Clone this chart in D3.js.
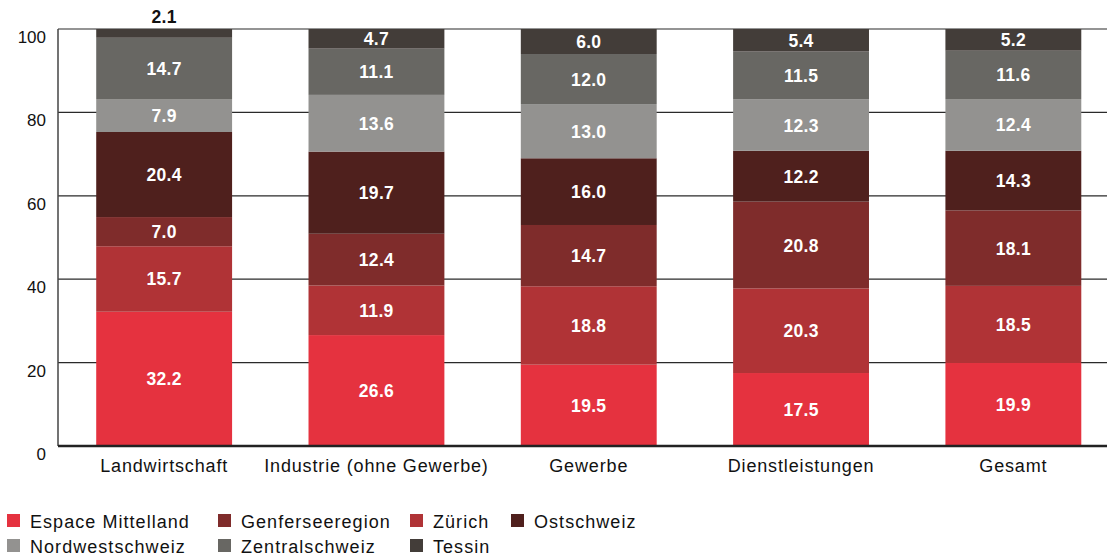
<!DOCTYPE html>
<html>
<head>
<meta charset="utf-8">
<script src="https://cdn.jsdelivr.net/npm/d3@7"></script>
<style>
  body { margin: 0; background: #fff; }
  svg { display: block; font-family: "Liberation Sans", Arial, sans-serif; }
</style>
</head>
<body>
<div id="chart"></div>
<script>
var categories = ['Landwirtschaft', 'Industrie (ohne Gewerbe)', 'Gewerbe', 'Dienstleistungen', 'Gesamt'];
var regions = ['Espace Mittelland', 'Zürich', 'Genferseeregion', 'Ostschweiz', 'Nordwestschweiz', 'Zentralschweiz', 'Tessin'];
var legendOrder = ['Espace Mittelland', 'Genferseeregion', 'Zürich', 'Ostschweiz', 'Nordwestschweiz', 'Zentralschweiz', 'Tessin'];
var colors = ['#e5323f', '#b03336', '#7f2c2b', '#4f201d', '#939290', '#686763', '#433d39'];

// values per region, in category order
var espace = [32.2, 26.6, 19.5, 17.5, 19.9];
var zuerich = [15.7, 11.9, 18.8, 20.3, 18.5];
var genf = [7.0, 12.4, 14.7, 20.8, 18.1];
var ost = [20.4, 19.7, 16.0, 12.2, 14.3];
var nordwest = [7.9, 13.6, 13.0, 12.3, 12.4];
var zentral = [14.7, 11.1, 12.0, 11.5, 11.6];
var tessin = [2.1, 4.7, 6.0, 5.4, 5.2];
var yTicks = [0, 20, 40, 60, 80, 100];

var series = [espace, zuerich, genf, ost, nordwest, zentral, tessin];

var width = 1107, height = 556;
var margin = {top: 29, left: 58, bottom: 110};

var svg = d3.select('#chart').append('svg')
  .attr('width', width)
  .attr('height', height);

var rows = categories.map(function(c, i) {
  var r = {cat: c};
  regions.forEach(function(reg, j) { r[reg] = series[j][i]; });
  return r;
});

var stack = d3.stack().keys(regions)(rows);

var x = d3.scaleBand().domain(categories).range([margin.left, 1119.5]).paddingInner(0.36).paddingOuter(0.18);
var y = d3.scaleLinear().domain([0, 100]).range([height - margin.bottom, margin.top]);
var color = d3.scaleOrdinal().domain(regions).range(colors);

// gridlines
svg.append('g').selectAll('line')
  .data(yTicks.filter(function(t) { return t > 0; }))
  .enter().append('line')
  .attr('x1', margin.left).attr('x2', width)
  .attr('y1', function(d) { return y(d); })
  .attr('y2', function(d) { return y(d); })
  .attr('stroke', '#2a2a2a').attr('stroke-width', 1.2);

// bars
var layer = svg.append('g').selectAll('g')
  .data(stack).enter().append('g')
  .attr('fill', function(d) { return color(d.key); });

layer.selectAll('rect')
  .data(function(d) { return d; })
  .enter().append('rect')
  .attr('x', function(d) { return x(d.data.cat); })
  .attr('width', x.bandwidth())
  .attr('y', function(d) { return y(d[1]); })
  .attr('height', function(d) { return y(d[0]) - y(d[1]); });

// value labels
layer.selectAll('text')
  .data(function(d) { return d; })
  .enter().append('text')
  .attr('x', function(d) { return x(d.data.cat) + x.bandwidth() / 2; })
  .attr('y', function(d) {
    var h = y(d[0]) - y(d[1]);
    if (h < 12) return y(d[1]) - 6;
    return (y(d[0]) + y(d[1])) / 2 + 6.5;
  })
  .attr('text-anchor', 'middle')
  .attr('font-size', 17.5)
  .attr('letter-spacing', 0.3)
  .attr('font-weight', 'bold')
  .attr('fill', function(d) { return (y(d[0]) - y(d[1])) < 12 ? '#111' : '#fff'; })
  .text(function(d) { return (d[1] - d[0]).toFixed(1); });

// left axis line
svg.append('line')
  .attr('x1', margin.left).attr('x2', margin.left)
  .attr('y1', y(100)).attr('y2', y(0))
  .attr('stroke', '#444').attr('stroke-width', 1.5);

// baseline
svg.append('line')
  .attr('x1', margin.left).attr('x2', width)
  .attr('y1', y(0)).attr('y2', y(0))
  .attr('stroke', '#222').attr('stroke-width', 2.5);

// y tick labels
svg.append('g').selectAll('text')
  .data(yTicks).enter().append('text')
  .attr('x', 46)
  .attr('y', function(d) { return y(d) + 14; })
  .attr('text-anchor', 'end')
  .attr('font-size', 17)
  .attr('fill', '#111')
  .text(function(d) { return d; });

// category labels
svg.append('g').selectAll('text')
  .data(categories).enter().append('text')
  .attr('x', function(d) { return x(d) + x.bandwidth() / 2; })
  .attr('y', y(0) + 26)
  .attr('text-anchor', 'middle')
  .attr('font-size', 18)
  .attr('letter-spacing', 0.85)
  .attr('fill', '#111')
  .text(function(d) { return d; });

// legend
var legendPos = [[7, 521], [218, 521], [410, 521], [511, 521], [7, 546], [218, 546], [410, 546]];
var legend = svg.append('g').selectAll('g')
  .data(legendOrder).enter().append('g')
  .attr('transform', function(d, i) { return 'translate(' + legendPos[i][0] + ',' + legendPos[i][1] + ')'; });

legend.append('rect')
  .attr('x', 0).attr('y', -7)
  .attr('width', 13).attr('height', 13)
  .attr('fill', function(d) { return color(d); });

legend.append('text')
  .attr('x', 23).attr('y', 6.5)
  .attr('font-size', 18)
  .attr('letter-spacing', 1.05)
  .attr('fill', '#111')
  .text(function(d) { return d; });
</script>
</body>
</html>
